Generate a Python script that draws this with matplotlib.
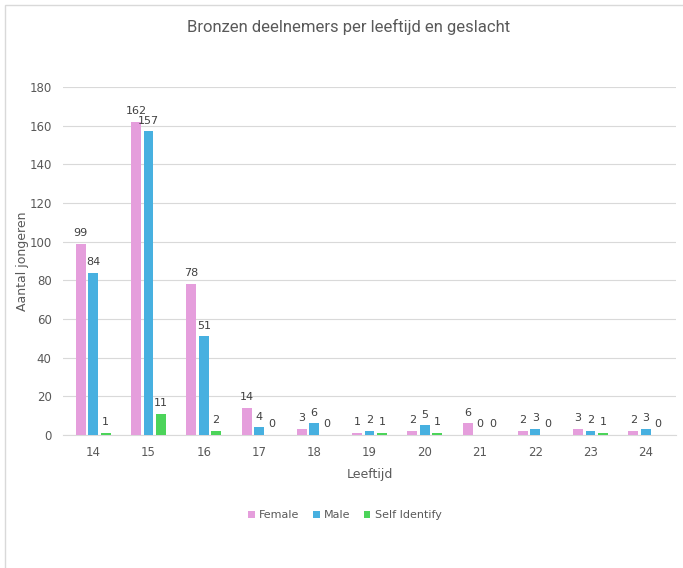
import matplotlib.pyplot as plt
import numpy as np
from matplotlib.patches import Rectangle

ages = ['14', '15', '16', '17', '18', '19', '20', '21', '22', '23', '24']
female = [99, 162, 78, 14, 3, 1, 2, 6, 2, 3, 2]
male = [84, 157, 51, 4, 6, 2, 5, 0, 3, 2, 3]
self_identify = [1, 11, 2, 0, 0, 1, 1, 0, 0, 1, 0]

series = [('Female', female, '#E59EDC'),
          ('Male', male, '#47B0E0'),
          ('Self Identify', self_identify, '#4CD45A')]

fig = plt.figure(figsize=(6.83, 5.68), dpi=100)
ax = fig.add_axes([0.092, 0.234, 0.898, 0.613])

# chart border like the Excel frame
fig.patches.append(Rectangle((0.007, -0.01), 1.1, 1.001, transform=fig.transFigure,
                             fill=False, edgecolor='#D9D9D9', linewidth=1))

x = np.arange(len(ages))
width = 0.18
offsets = [-0.225, 0, 0.225]
for (name, vals, col), off in zip(series, offsets):
    bars = ax.bar(x + off, vals, width, color=col, label=name, zorder=3)
    for b, v in zip(bars, vals):
        ax.text(b.get_x() + b.get_width() / 2, v + 3, str(v), ha='center', va='bottom',
                fontsize=8, color='#404040')

ax.set_xlim(-0.55, len(ages) - 0.45)
ax.set_ylim(0, 180)
ax.set_yticks(range(0, 181, 20))
ax.set_xticks(x)
ax.set_xticklabels(ages)
ax.grid(axis='y', color='#D9D9D9', linewidth=0.8, zorder=0)
for s in ['top', 'right', 'left']:
    ax.spines[s].set_visible(False)
ax.spines['bottom'].set_color('#D9D9D9')
ax.tick_params(axis='both', length=0, labelsize=8.5, labelcolor='#595959', pad=8)

ax.set_xlabel('Leeftijd', fontsize=9, color='#595959', labelpad=6)
ax.set_ylabel('Aantal jongeren', fontsize=9, color='#595959', labelpad=4)
ax.yaxis.set_label_coords(-0.055, 0.5)
fig.text(0.51, 0.953, 'Bronzen deelnemers per leeftijd en geslacht', ha='center', va='center',
         fontsize=12, color='#595959', family=['Roboto', 'DejaVu Sans'])

leg = fig.legend(loc='center', bbox_to_anchor=(0.505, 0.093), ncol=3, frameon=False,
                 fontsize=8, handlelength=0.6, handleheight=0.6, handletextpad=0.4,
                 columnspacing=1.2)
for t in leg.get_texts():
    t.set_color('#595959')

plt.savefig('out.png', dpi=100)
